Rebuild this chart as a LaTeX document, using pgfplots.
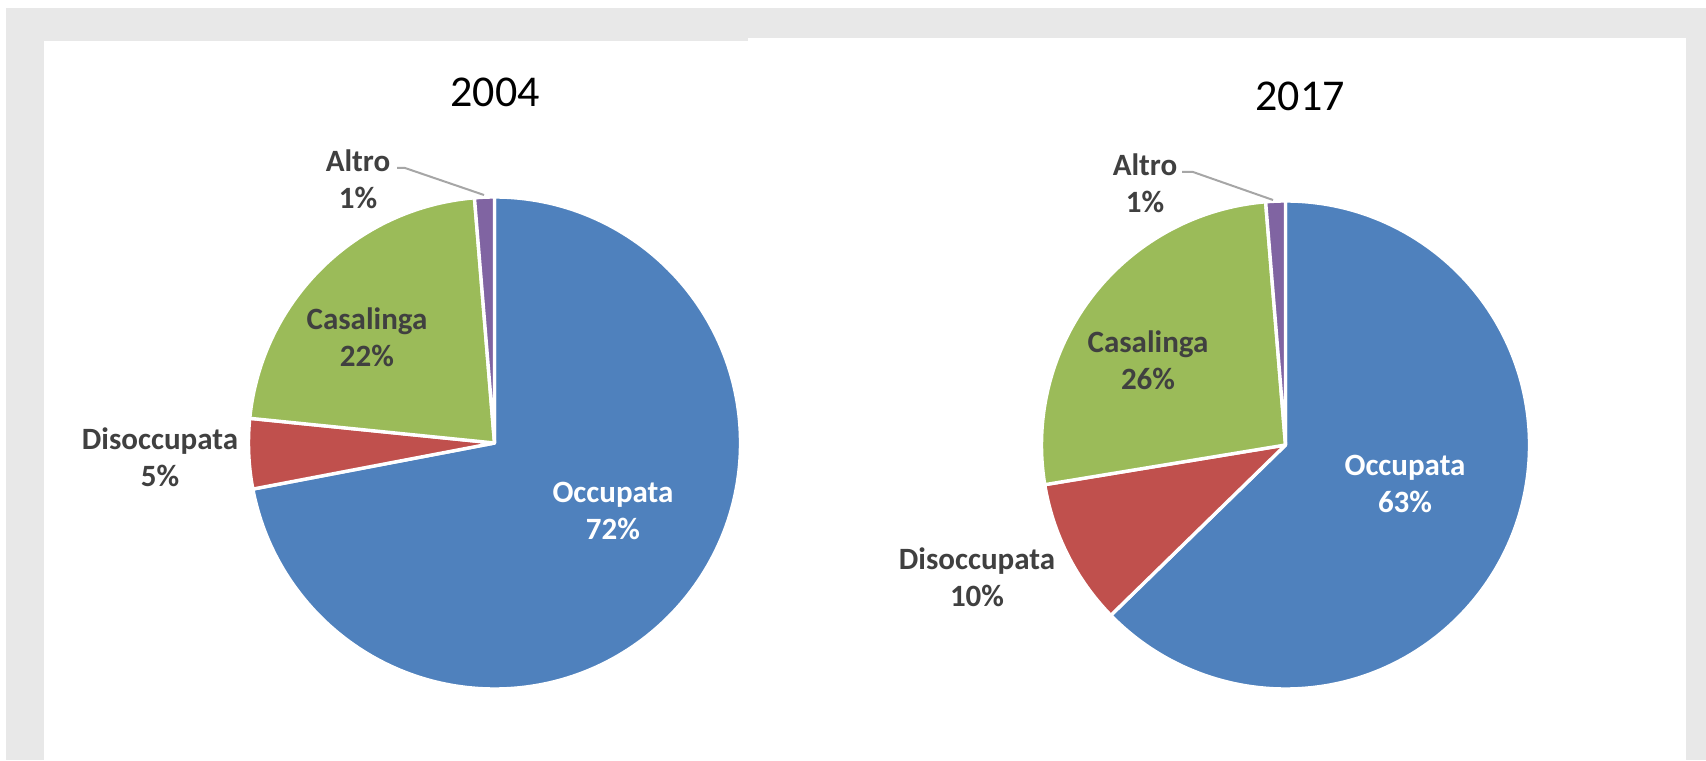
\documentclass[border=0pt]{standalone}
\usepackage{fontspec}
\setmainfont{Carlito}
\usepackage{pgfplots}
\pgfplotsset{compat=1.18}
\definecolor{bg}{HTML}{E8E8E8}
\definecolor{occ}{HTML}{4F81BD}
\definecolor{dis}{HTML}{C0504D}
\definecolor{cas}{HTML}{9BBB59}
\definecolor{alt}{HTML}{8064A2}
\definecolor{lbl}{HTML}{404040}
\definecolor{lead}{HTML}{A6A6A6}
% shares (percent), clockwise from 12 o'clock
% 2004: Occupata 72.0, Disoccupata 4.6, Casalinga 22.1, Altro 1.3
% 2017: Occupata 62.7, Disoccupata 9.7, Casalinga 26.3, Altro 1.3
\def\occA{72.0}\def\disA{4.6}\def\casA{22.1}\def\altA{1.3}
\def\occB{62.7}\def\disB{9.7}\def\casB{26.3}\def\altB{1.3}
% wedge: cx, cy, radius, from%, to%, colour
\newcommand\pwedge[6]{%
  \fill[#6] (axis cs:#1,#2) -- ++({90-3.6*(#4)}:#3) arc[start angle={90-3.6*(#4)}, end angle={90-3.6*(#5)}, radius=#3] -- cycle;
  \draw[white, line width=1.7pt, line join=round] (axis cs:#1,#2) -- ++({90-3.6*(#4)}:#3) arc[start angle={90-3.6*(#4)}, end angle={90-3.6*(#5)}, radius=#3] -- cycle;}
\begin{document}
\begin{tikzpicture}
\begin{axis}[
  width=853pt, height=380pt, scale only axis,
  xmin=0, xmax=1706, ymin=0, ymax=760,
  enlargelimits=false, hide axis, clip=false]
% background and panels
\fill[white] (axis cs:0,0) rectangle (axis cs:1706,760);
\fill[bg] (axis cs:6,0) rectangle (axis cs:1706,752);
\fill[white] (axis cs:44,0) rectangle (axis cs:748,719);
\fill[white] (axis cs:748,0) rectangle (axis cs:1686,722);
% pie 2004
\pwedge{494.5}{317}{123pt}{0}{\occA}{occ}
\pwedge{494.5}{317}{123pt}{\occA}{\occA+\disA}{dis}
\pwedge{494.5}{317}{123pt}{\occA+\disA}{\occA+\disA+\casA}{cas}
\pwedge{494.5}{317}{123pt}{\occA+\disA+\casA}{100}{alt}
% pie 2017
\pwedge{1285.5}{315}{122pt}{0}{\occB}{occ}
\pwedge{1285.5}{315}{122pt}{\occB}{\occB+\disB}{dis}
\pwedge{1285.5}{315}{122pt}{\occB+\disB}{\occB+\disB+\casB}{cas}
\pwedge{1285.5}{315}{122pt}{\occB+\disB+\casB}{100}{alt}
% titles
\node[font=\fontsize{22}{26}\selectfont, text=black] at (axis cs:495,668) {2004};
\node[font=\fontsize{22}{26}\selectfont, text=black] at (axis cs:1300,664) {2017};
% leader lines
\draw[lead, line width=1pt] (axis cs:397,592) -- (axis cs:405,592) -- (axis cs:484,565);
\draw[lead, line width=1pt] (axis cs:1182,588) -- (axis cs:1193,588) -- (axis cs:1273,560);
% labels
\tikzset{lab/.style={align=center, font=\fontsize{15.5}{18.5}\selectfont\bfseries, text=lbl}}
\node[lab, text=white] at (axis cs:613,249) {Occupata\\72\%};
\node[lab] at (axis cs:367,423) {Casalinga\\22\%};
\node[lab] at (axis cs:160,303) {Disoccupata\\5\%};
\node[lab] at (axis cs:358,581) {Altro\\1\%};
\node[lab, text=white] at (axis cs:1405,276) {Occupata\\63\%};
\node[lab] at (axis cs:1148,400) {Casalinga\\26\%};
\node[lab] at (axis cs:977,183) {Disoccupata\\10\%};
\node[lab] at (axis cs:1145,577) {Altro\\1\%};
\end{axis}
\end{tikzpicture}
\end{document}
